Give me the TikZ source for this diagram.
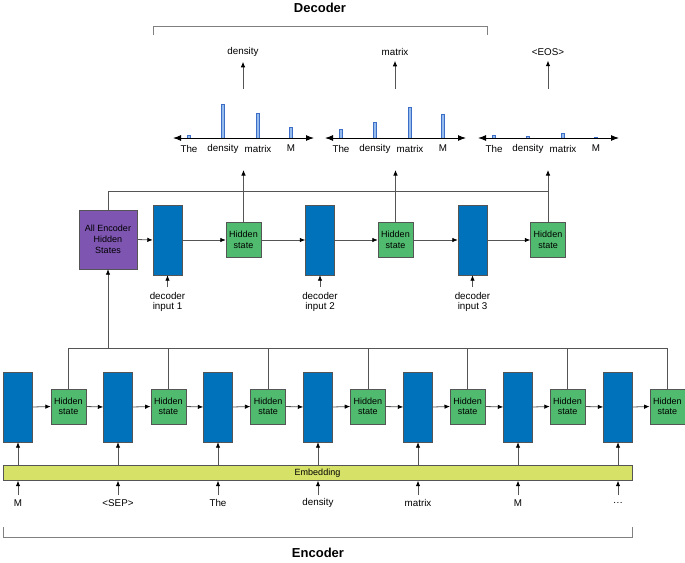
\documentclass[tikz,border=0pt]{standalone}
\usepackage{fontspec}
\setmainfont{Liberation Sans}
\definecolor{cellblue}{RGB}{0, 114, 188}
\definecolor{stategreen}{RGB}{80, 186, 110}
\definecolor{encpurple}{RGB}{126, 86, 178}
\definecolor{embedyellow}{RGB}{214, 225, 104}
\definecolor{barblue}{RGB}{150, 188, 238}
\definecolor{barline}{RGB}{60, 110, 200}
\definecolor{linegray}{RGB}{85, 85, 85}
\usetikzlibrary{positioning,arrows.meta}

\begin{document}
\begin{tikzpicture}[x=1pt, y=-1pt, >={Latex[length=5.5pt,width=4.5pt,color=black]},
  cell/.style={draw=linegray, fill=cellblue, minimum width=29pt, minimum height=70pt, inner sep=0pt},
  hstate/.style={draw=linegray, fill=stategreen, minimum width=35pt, minimum height=35pt, inner sep=0pt,
    align=center, font=\fontsize{9}{10.5}\selectfont},
  lbl/.style={align=center, inner sep=0pt, font=\fontsize{9.8}{10.8}\selectfont},
  link/.style={draw=linegray, line width=0.8pt},
  axis/.style={draw=black, line width=1pt, {Latex[length=8pt,width=6pt]}-{Latex[length=8pt,width=6pt]}},
  bracket/.style={draw=gray, line width=0.9pt},
  title/.style={font=\bfseries\fontsize{13}{15}\selectfont}]
  \useasboundingbox (0,0) rectangle (685,562);

  % encoder
  \node[draw=linegray, fill=embedyellow, minimum width=629pt, minimum height=15pt, inner sep=0pt,
    font=\fontsize{9}{10.5}\selectfont] (emb) at (317.5,473) {Embedding};
  \foreach \i/\w in {0/M, 1/{<SEP>}, 2/The, 3/density, 4/matrix, 5/M, 6/{.\kern0.5pt.\kern0.5pt.}} {
    \node[cell] (ec\i) at (18+100*\i,407) {};
    \node[hstate] (eh\i) at (68.5+99.8*\i,406.5) {Hidden\\state};
    \node[lbl] (ew\i) at (18+100*\i,503) {\w};
    \coordinate (ein\i) at (18+100*\i,495);
    \draw[link,->] (ec\i.south |- emb.north) -- (ec\i.south);
    \draw[link,->] (ein\i) -- (ec\i.south |- emb.south);
    \draw[link,->] (ec\i.east) -- (eh\i.west);
  }
  \foreach \i [evaluate=\i as \j using int(\i+1)] in {0,...,5}
    \draw[link,->] (eh\i.east) -- (ec\j.west);
  \coordinate (ebus) at (108,348);
  \draw[link] (eh0.north) |- (eh6.north |- ebus) -- (eh6.north);
  \foreach \i in {1,...,5}
    \draw[link] (eh\i.north) -- (eh\i.north |- ebus);

  \draw[bracket] (3,527) |- (632,537) -- (632,527);
  \node[title] (enctitle) at (318,553) {Encoder};

  % decoder
  \node[draw=linegray, fill=encpurple, minimum width=58pt, minimum height=59pt, inner sep=0pt,
    align=center, font=\fontsize{9}{11}\selectfont] (all) at (108,239.5) {All Encoder\\Hidden\\States};
  \draw[link,->] (ebus) -- (all.south);
  \foreach \k/\cx/\hx in {1/167.5/243.5, 2/320/395.5, 3/472.5/548} {
    \node[cell] (dc\k) at (\cx,240) {};
    \node[hstate] (dh\k) at (\hx,240) {Hidden\\state};
    \node[lbl] (din\k) at (\cx,302) {decoder\\input \k};
    \coordinate (dtail\k) at (\cx,287);
    \coordinate (dtop\k) at (\hx,170);
    \draw[link,->] (dtail\k) -- (dc\k.south);
    \draw[link,->] (dc\k.east) -- (dh\k.west);
    \draw[link,->] (dh\k.north) -- (dtop\k);
  }
  \draw[link,->] (all.east) -- (dc1.west);
  \draw[link,->] (dh1.east) -- (dc2.west);
  \draw[link,->] (dh2.east) -- (dc3.west);
  \coordinate (dbus) at (548,191);
  \draw[link] (all.north) |- (dbus);

  % output distributions
  \foreach \c/\x/\ha/\hb/\hc/\hd/\ox/\w in {1/173/3/34/25/11/243/density,
      2/325/9/16/31/24/395/matrix, 3/478/3/2/5/0.5/548/{<EOS>}} {
    \coordinate (axl\c) at (\x,138);
    \coordinate (axr\c) at (\x+141,138);
    \foreach \dx/\h/\t in {16/\ha/The, 50/\hb/density, 85/\hc/matrix, 118/\hd/M} {
      \fill[barblue, draw=barline, line width=0.5pt] (\x+\dx-1.5,138) rectangle ++(3,-\h);
      \node[lbl] at (\x+\dx,148.5) {\t};
    }
    \draw[axis] (axl\c) -- (axr\c);
    \node[lbl] (out\c) at (\ox,52) {\w};
    \coordinate (pk\c) at (\ox,89);
    \draw[link,->] (pk\c) -- ([yshift=-5pt]out\c.south);
  }

  \draw[bracket] (153,35) |- (487,26) -- (487,35);
  \node[title] (dectitle) at (320,8) {Decoder};
\end{tikzpicture}
\end{document}
